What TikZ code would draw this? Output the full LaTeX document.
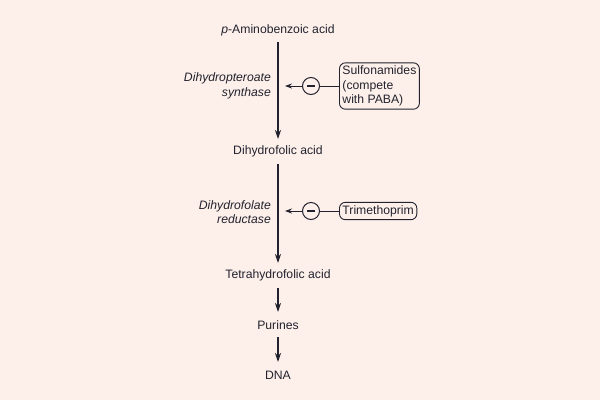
\documentclass[tikz,border=0pt]{standalone}
\usepackage{fontspec}
\setmainfont{Liberation Sans}
\usetikzlibrary{arrows.meta}
\definecolor{bg}{HTML}{FDF0EA}
\definecolor{ink}{HTML}{22222E}
\tikzset{
  lbl/.style={text=ink, font=\fontsize{12.2}{14.5}\selectfont, inner sep=0pt, anchor=center},
  enz/.style={text=ink, font=\fontsize{12.2}{14.5}\selectfont\itshape, inner sep=0pt, align=right, anchor=east},
  flow/.style={draw=ink, line width=1.5pt, -{Stealth[length=9pt,width=6pt]}},
  inh/.style={draw=ink, line width=1pt},
  inharr/.style={draw=ink, line width=1pt, -{Stealth[length=7pt,width=5pt]}},
  minus/.style={circle, draw=ink, line width=1pt, minimum size=17pt, inner sep=0pt},
  drugbox/.style={draw=ink, line width=0.9pt, rounded corners=6pt, text=ink, font=\fontsize{12.2}{14.5}\selectfont, align=left, inner xsep=3pt, inner ysep=3pt, anchor=west}
}
\begin{document}
\begin{tikzpicture}[x=1pt,y=-1pt]
\useasboundingbox[fill=bg] (0,0) rectangle (600,400);
\node[lbl] (pab) at (278,30) {\textit{p}-Aminobenzoic acid};
\node[lbl] (dhf) at (278,151) {Dihydrofolic acid};
\node[lbl] (thf) at (278,275) {Tetrahydrofolic acid};
\node[lbl] (pur) at (278,325) {Purines};
\node[lbl] (dna) at (278,375) {DNA};
\draw[flow] (278,42) -- (278,139);
\draw[flow] (278,164) -- (278,263);
\draw[flow] (278,288) -- (278,312);
\draw[flow] (278,337) -- (278,362);
\node[enz] (enz1) at (271,86) {Dihydropteroate\\synthase};
\node[enz] (enz2) at (271,212) {Dihydrofolate\\reductase};
\node[drugbox] (sul) at (339,86) {Sulfonamides\\(compete\\with PABA)};
\node[drugbox] (tri) at (339,211) {Trimethoprim};
\node[minus] (m1) at (311,86) {};
\node[minus] (m2) at (311,211) {};
\draw[inh, line width=1.2pt] (m1.center) ++(-4,0) -- ++(8,0);
\draw[inh, line width=1.2pt] (m2.center) ++(-4,0) -- ++(8,0);
\coordinate (t1) at (285,86);
\coordinate (t2) at (285,211);
\draw[inh] (sul.west) -- (m1.east);
\draw[inh] (tri.west) -- (m2.east);
\draw[inharr] (m1.west) -- (t1);
\draw[inharr] (m2.west) -- (t2);
\end{tikzpicture}
\end{document}
